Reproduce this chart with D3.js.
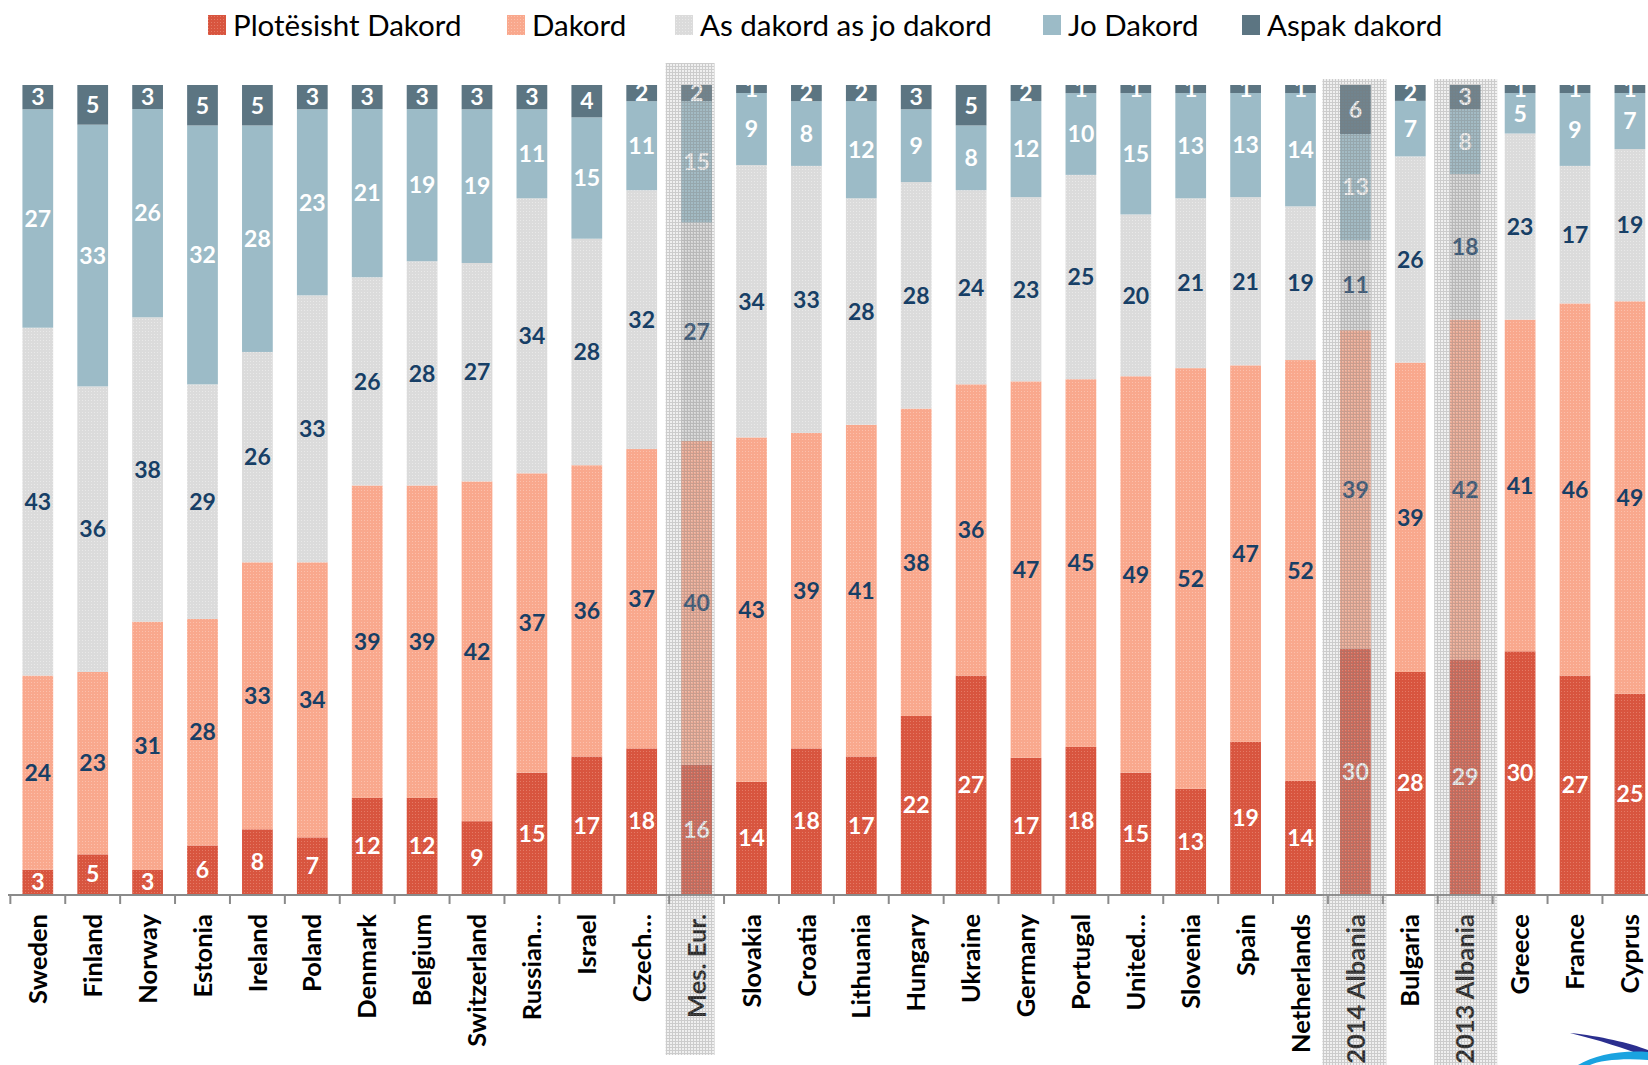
<!DOCTYPE html>
<html>
<head>
<meta charset="utf-8">
<script src="https://cdn.jsdelivr.net/npm/d3@7"></script>
<style>
  html, body { margin: 0; padding: 0; background: #fff; overflow: hidden; }
  svg { display: block; }
</style>
</head>
<body>
<svg id="chart" width="1648" height="1065"></svg>
<script>
const categories = ["Sweden","Finland","Norway","Estonia","Ireland","Poland","Denmark","Belgium","Switzerland","Russian…","Israel","Czech…","Mes. Eur.","Slovakia","Croatia","Lithuania","Hungary","Ukraine","Germany","Portugal","United…","Slovenia","Spain","Netherlands","2014 Albania","Bulgaria","2013 Albania","Greece","France","Cyprus"];
const plotesisht = [3,5,3,6,8,7,12,12,9,15,17,18,16,14,18,17,22,27,17,18,15,13,19,14,30,28,29,30,27,25];
const dakord     = [24,23,31,28,33,34,39,39,42,37,36,37,40,43,39,41,38,36,47,45,49,52,47,52,39,39,42,41,46,49];
const asDakord   = [43,36,38,29,26,33,26,28,27,34,28,32,27,34,33,28,28,24,23,25,20,21,21,19,11,26,18,23,17,19];
const joDakord   = [27,33,26,32,28,23,21,19,19,11,15,11,15,9,8,12,9,8,12,10,15,13,13,14,13,7,8,5,9,7];
const aspak      = [3,5,3,5,5,3,3,3,3,3,4,2,2,1,2,2,3,5,2,1,1,1,1,1,6,2,3,1,1,1];
const seriesNames = ["Plotësisht Dakord","Dakord","As dakord as jo dakord","Jo Dakord","Aspak dakord"];
const highlighted = ["Mes. Eur.","2014 Albania","2013 Albania"];

const seriesValues = [plotesisht, dakord, asDakord, joDakord, aspak];
const colors = ["#D8553F","#F9A88D","#DBDBDB","#9CBBC7","#5C7582"];
const dotColors = ["#E47A66","#FCC0AC","#E9E9E9","#9CBBC7","#5C7582"];
const labelColors = ["#ffffff","#173F66","#173F66","#ffffff","#ffffff"];

const svg = d3.select("#chart");
const defs = svg.append("defs");

// bar texture patterns
colors.forEach((c, i) => {
  const p = defs.append("pattern").attr("id", "pat" + i)
    .attr("patternUnits", "userSpaceOnUse").attr("width", 3).attr("height", 3);
  p.append("rect").attr("width", 3).attr("height", 3).attr("fill", c);
  if (i < 3) {
    p.append("rect").attr("x", 1).attr("y", 1).attr("width", 1).attr("height", 1).attr("fill", dotColors[i]);
  }
});
// highlight overlay pattern
const hp = defs.append("pattern").attr("id", "hl")
  .attr("patternUnits", "userSpaceOnUse").attr("width", 3).attr("height", 3);
hp.append("rect").attr("width", 3).attr("height", 3).attr("fill", "rgba(185,185,185,0.22)");
hp.append("rect").attr("x", 0).attr("y", 0).attr("width", 3).attr("height", 1).attr("fill", "rgba(120,120,120,0.3)");
hp.append("rect").attr("x", 0).attr("y", 1).attr("width", 1).attr("height", 2).attr("fill", "rgba(120,120,120,0.3)");

defs.append("clipPath").attr("id", "plotClip")
  .append("rect").attr("x", 0).attr("y", 85).attr("width", 1648).attr("height", 830);

const plotTop = 85, plotBottom = 894, axisY = 895;

const x = d3.scaleBand().domain(categories).range([10.35, 1657.35]).paddingInner(0.44).paddingOuter(0.22);
const y = d3.scaleLinear().domain([0, 1]).range([plotBottom, plotTop]);

const table = categories.map((c, i) => {
  const row = { cat: c };
  seriesNames.forEach((s, k) => row[s] = seriesValues[k][i]);
  return row;
});
const stacked = d3.stack().keys(seriesNames).offset(d3.stackOffsetExpand)(table);

// bars
const gBars = svg.append("g");
stacked.forEach((layer, k) => {
  gBars.selectAll(null).data(layer).enter().append("rect")
    .attr("x", d => x(d.data.cat))
    .attr("width", x.bandwidth())
    .attr("y", d => y(d[1]))
    .attr("height", d => y(d[0]) - y(d[1]))
    .attr("fill", "url(#pat" + k + ")");
});

// value labels
const gLab = svg.append("g").attr("clip-path", "url(#plotClip)");
stacked.forEach((layer, k) => {
  gLab.selectAll(null).data(layer).enter().append("text")
    .attr("x", d => x(d.data.cat) + x.bandwidth() / 2)
    .attr("y", d => (y(d[0]) + y(d[1])) / 2)
    .attr("dy", "0.36em")
    .attr("text-anchor", "middle")
    .attr("font-family", "Lato, 'Open Sans', sans-serif")
    .attr("font-weight", "bold")
    .attr("font-size", 23)
    .attr("fill", labelColors[k])
    .text(d => d.data[layer.key]);
});

// axis
const axis = d3.axisBottom(x).tickSize(0).tickFormat("");
const gAxis = svg.append("g").attr("transform", `translate(0,${axisY})`).call(axis);
gAxis.select(".domain").attr("stroke", "#8A8A8A").attr("stroke-width", 2).attr("d", "M8,0H1648");
const step = x.step();
const x0 = x.range()[0];
gAxis.selectAll(".bnd").data(categories).enter().append("line")
  .attr("x1", (c, i) => x0 + i * step).attr("x2", (c, i) => x0 + i * step)
  .attr("y1", 0).attr("y2", 9)
  .attr("stroke", "#8A8A8A").attr("stroke-width", 2);

// category labels
svg.append("g").selectAll("text").data(categories).enter().append("text")
  .attr("transform", c => `translate(${x(c) + x.bandwidth() / 2},914) rotate(-90)`)
  .attr("dy", "0.36em")
  .attr("text-anchor", "end")
  .attr("font-family", "Lato, 'Open Sans', sans-serif")
  .attr("font-weight", "bold")
  .attr("font-size", 25.5)
  .attr("fill", "#000")
  .text(c => c);

// highlight overlays
const hlSpec = {
  "Mes. Eur.": { l: -31, r: 18, top: 63, bottom: 1055 },
  "2014 Albania": { l: -33, r: 31, top: 79, bottom: 1065 },
  "2013 Albania": { l: -31, r: 32, top: 79, bottom: 1065 }
};
svg.append("g").selectAll("rect").data(highlighted).enter().append("rect")
  .attr("x", c => x(c) + x.bandwidth() / 2 + hlSpec[c].l)
  .attr("width", c => hlSpec[c].r - hlSpec[c].l)
  .attr("y", c => hlSpec[c].top)
  .attr("height", c => hlSpec[c].bottom - hlSpec[c].top)
  .attr("fill", "url(#hl)");

// legend
const legendX = [208, 507, 675, 1043, 1242];
const lg = svg.append("g");
seriesNames.forEach((s, k) => {
  lg.append("rect").attr("x", legendX[k]).attr("y", 15).attr("width", 18).attr("height", 20)
    .attr("fill", "url(#pat" + k + ")");
  lg.append("text").attr("x", legendX[k] + 25).attr("y", 25).attr("dy", "0.36em")
    .attr("font-family", "Lato, 'Open Sans', sans-serif")
    .attr("font-size", 29.5)
    .attr("fill", "#000")
    .text(s);
});

// logo fragment (bottom-right)
svg.append("path")
  .attr("d", "M1570,1033 C1600,1036 1630,1043 1648,1050 L1648,1058 C1625,1048 1598,1040 1570,1033 Z")
  .attr("fill", "#2B2F8F");
svg.append("path")
  .attr("d", "M1578,1065 C1595,1055 1620,1050 1648,1052 L1648,1060 C1625,1058 1600,1060 1590,1065 Z")
  .attr("fill", "#1AA3E0");
</script>
</body>
</html>
